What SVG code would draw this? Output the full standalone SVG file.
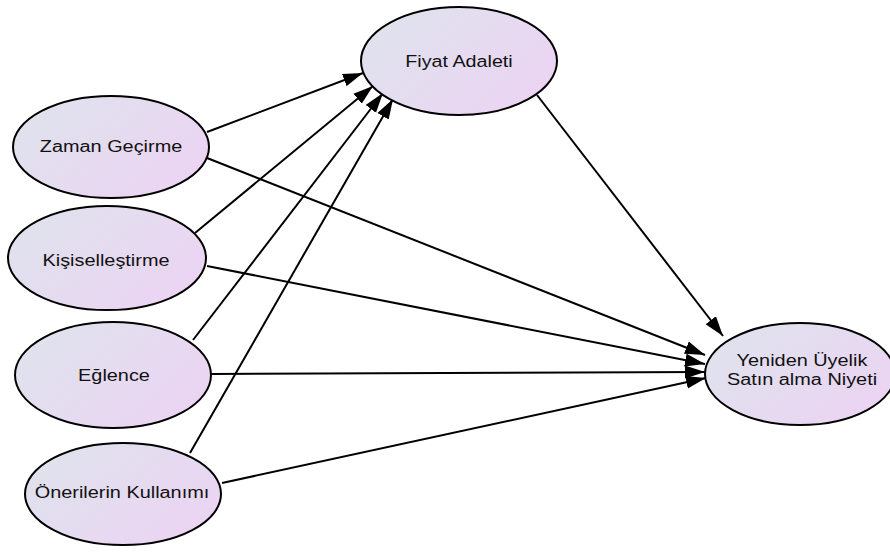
<svg xmlns="http://www.w3.org/2000/svg" width="890" height="552" viewBox="0 0 890 552">
<defs>
<linearGradient id="g" x1="0" y1="0.2" x2="1" y2="0.8">
<stop offset="0" stop-color="#dfe3ed"/>
<stop offset="1" stop-color="#ecd3f3"/>
</linearGradient>
<marker id="arr" markerUnits="userSpaceOnUse" markerWidth="21" markerHeight="14" refX="20" refY="7" orient="auto">
<path d="M0,0.5 L20,7 L0,13.5 Z" fill="#000"/>
</marker>
<style>
.node ellipse{fill:url(#g);stroke:#000;stroke-width:2}
.node text{font-family:"Liberation Sans",Arial,sans-serif;font-size:17.3px;fill:#111;text-anchor:middle}
#edges line{stroke:#000;stroke-width:2;marker-end:url(#arr)}
</style>
</defs>
<rect width="890" height="552" fill="#fff"/>
<g id="edges">
<line x1="207" y1="132" x2="363" y2="73"/>
<line x1="195" y1="233" x2="373" y2="86"/>
<line x1="193" y1="340" x2="383" y2="93"/>
<line x1="190" y1="453" x2="393" y2="99"/>
<line x1="207" y1="158" x2="705" y2="355"/>
<line x1="207" y1="266" x2="705" y2="364"/>
<line x1="212" y1="374" x2="705" y2="372"/>
<line x1="222" y1="483" x2="706" y2="378"/>
<line x1="537" y1="95" x2="723" y2="336"/>
</g>
<g id="fiyat" class="node">
<ellipse cx="459" cy="61" rx="98" ry="54"/>
<text transform="translate(459,67) scale(1.14,1)">Fiyat Adaleti</text>
</g>
<g id="zaman" class="node">
<ellipse cx="111" cy="147" rx="98" ry="51"/>
<text transform="translate(111,152) scale(1.15,1)">Zaman Geçirme</text>
</g>
<g id="kisisel" class="node">
<ellipse cx="107" cy="258" rx="99" ry="52"/>
<text transform="translate(106,266) scale(1.15,1)">Kişiselleştirme</text>
</g>
<g id="eglence" class="node">
<ellipse cx="113" cy="375" rx="98" ry="53"/>
<text transform="translate(114,381) scale(1.15,1)">Eğlence</text>
</g>
<g id="oneri" class="node">
<ellipse cx="123" cy="494" rx="98" ry="51"/>
<text transform="translate(122,498) scale(1.15,1)">Önerilerin Kullanımı</text>
</g>
<g id="yeniden" class="node">
<ellipse cx="800" cy="374" rx="95" ry="51"/>
<text transform="translate(802,366) scale(1.15,1)">Yeniden Üyelik</text>
<text transform="translate(802,385) scale(1.15,1)">Satın alma Niyeti</text>
</g>
</svg>
